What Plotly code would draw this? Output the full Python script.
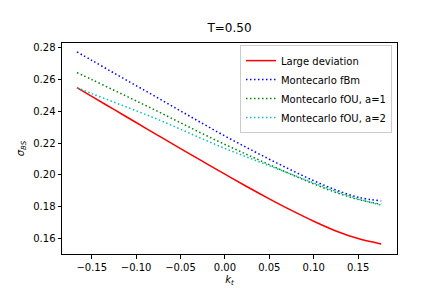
import plotly.graph_objects as go

k = [-0.1667, -0.15, -0.125, -0.1, -0.075, -0.05, -0.025, 0.0, 0.025, 0.05, 0.075, 0.1, 0.125, 0.15, 0.176]

large_dev = [0.2549, 0.2494, 0.2412, 0.2330, 0.2248, 0.2166, 0.2085, 0.2005, 0.1926, 0.1850, 0.1777, 0.1709, 0.1648, 0.1600, 0.1566]
mc_fbm    = [0.2774, 0.2721, 0.2641, 0.2562, 0.2483, 0.2403, 0.2323, 0.2245, 0.2171, 0.2099, 0.2030, 0.1964, 0.1906, 0.1860, 0.1837]
mc_fou_a1 = [0.2644, 0.2600, 0.2533, 0.2466, 0.2398, 0.2328, 0.2259, 0.2192, 0.2128, 0.2065, 0.2003, 0.1944, 0.1890, 0.1846, 0.1816]
mc_fou_a2 = [0.2549, 0.2512, 0.2458, 0.2404, 0.2348, 0.2288, 0.2226, 0.2167, 0.2112, 0.2058, 0.2004, 0.1950, 0.1897, 0.1850, 0.1810]

x_ticks = [-0.15, -0.10, -0.05, 0.00, 0.05, 0.10, 0.15]
y_ticks = [0.16, 0.18, 0.20, 0.22, 0.24, 0.26, 0.28]

DOT = "1.5px,2.5px"

fig = go.Figure()
fig.add_trace(go.Scatter(x=k, y=large_dev, mode="lines", name="Large deviation",
                         line=dict(color="#ff0000", width=1.5, shape="spline")))
fig.add_trace(go.Scatter(x=k, y=mc_fbm, mode="lines", name="Montecarlo fBm",
                         line=dict(color="#0000ff", width=1.5, dash=DOT, shape="spline")))
fig.add_trace(go.Scatter(x=k, y=mc_fou_a1, mode="lines", name="Montecarlo fOU, a=1",
                         line=dict(color="#008000", width=1.5, dash=DOT, shape="spline")))
fig.add_trace(go.Scatter(x=k, y=mc_fou_a2, mode="lines", name="Montecarlo fOU, a=2",
                         line=dict(color="#00bfbf", width=1.5, dash=DOT, shape="spline")))

axis_common = dict(showgrid=False, zeroline=False, showline=True, linecolor="black",
                   linewidth=1, mirror=True, ticks="outside", ticklen=3.5, tickwidth=0.8,
                   tickcolor="black", tickfont=dict(family="DejaVu Sans", size=10, color="black"))

fig.update_xaxes(range=[-0.1835, 0.1938], tickvals=x_ticks,
                 ticktext=[f"{v:.2f}".replace("-", "\u2212") for v in x_ticks],
                 title=dict(text="<i>k<sub>t</sub></i>", font=dict(family="DejaVu Sans", size=10, color="black"), standoff=4),
                 **axis_common)
fig.update_yaxes(range=[0.1503, 0.2830], tickvals=y_ticks,
                 ticktext=[f"{v:.2f}" for v in y_ticks],
                 title=dict(text="<i>σ<sub>BS</sub></i>", font=dict(family="DejaVu Sans", size=10, color="black"), standoff=6),
                 **axis_common)

fig.update_layout(
    width=432, height=288,
    margin=dict(l=54, r=43, t=35, b=36),
    paper_bgcolor="white", plot_bgcolor="white",
    title=dict(text="T=0.50", x=0.5, xanchor="center", xref="paper", y=1 - 20/288, yanchor="middle",
               font=dict(family="DejaVu Sans", size=12, color="black")),
    legend=dict(x=0.985, y=0.99, xanchor="right", yanchor="top",
                bgcolor="rgba(255,255,255,0.8)", bordercolor="#cccccc", borderwidth=1,
                font=dict(family="DejaVu Sans", size=10, color="black"),
                itemwidth=30, tracegroupgap=0),
    showlegend=True,
)

fig.write_html("out.html")
